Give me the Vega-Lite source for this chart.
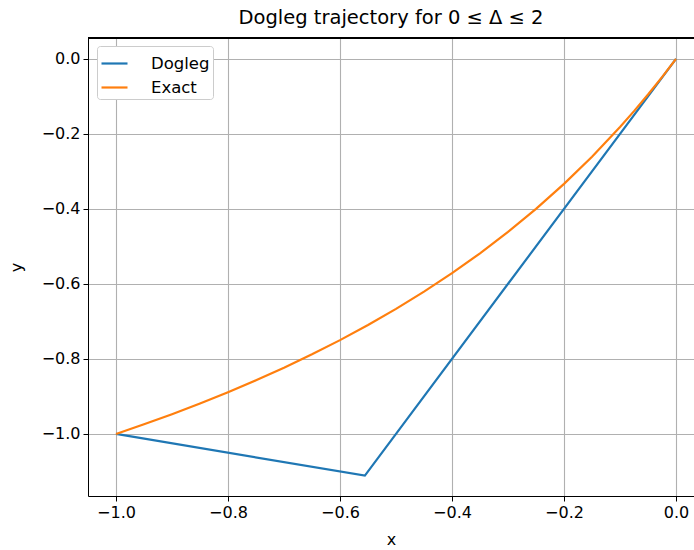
{
  "$schema": "https://vega.github.io/schema/vega-lite/v6.json",
  "autosize": {"type": "none"},
  "width": 606,
  "height": 458,
  "padding": {"left": 88, "top": 38, "right": 0, "bottom": 54},
  "background": "white",
  "title": {"text": "Dogleg trajectory for 0 ≤ Δ ≤ 2", "font": "DejaVu Sans", "fontSize": 19.5, "fontWeight": "normal", "color": "black", "offset": 9},
  "config": {
    "view": {"stroke": null},
    "axis": {
      "labelFont": "DejaVu Sans", "labelFontSize": 16, "labelColor": "black",
      "titleFont": "DejaVu Sans", "titleFontSize": 16, "titleFontWeight": "normal", "titleColor": "black",
      "domainColor": "black", "domainWidth": 1, "tickColor": "black", "tickSize": 5, "tickWidth": 1,
      "gridColor": "#b0b0b0", "gridWidth": 1.1, "gridOpacity": 1, "labelPadding": 3
    }
  },
  "data": {"values": [
    {"series": "Dogleg", "o": 0, "x": 0, "y": 0},
    {"series": "Dogleg", "o": 1, "x": -0.5556, "y": -1.1111},
    {"series": "Dogleg", "o": 2, "x": -1, "y": -1},
    {"series": "Exact", "o": 0, "x": 0, "y": 0},
    {"series": "Exact", "o": 1, "x": -0.025, "y": -0.04878},
    {"series": "Exact", "o": 2, "x": -0.05, "y": -0.09524},
    {"series": "Exact", "o": 3, "x": -0.075, "y": -0.13953},
    {"series": "Exact", "o": 4, "x": -0.1, "y": -0.18182},
    {"series": "Exact", "o": 5, "x": -0.15, "y": -0.26087},
    {"series": "Exact", "o": 6, "x": -0.2, "y": -0.33333},
    {"series": "Exact", "o": 7, "x": -0.25, "y": -0.4},
    {"series": "Exact", "o": 8, "x": -0.3, "y": -0.46154},
    {"series": "Exact", "o": 9, "x": -0.35, "y": -0.51852},
    {"series": "Exact", "o": 10, "x": -0.4, "y": -0.57143},
    {"series": "Exact", "o": 11, "x": -0.45, "y": -0.62069},
    {"series": "Exact", "o": 12, "x": -0.5, "y": -0.66667},
    {"series": "Exact", "o": 13, "x": -0.55, "y": -0.70968},
    {"series": "Exact", "o": 14, "x": -0.6, "y": -0.75},
    {"series": "Exact", "o": 15, "x": -0.65, "y": -0.78788},
    {"series": "Exact", "o": 16, "x": -0.7, "y": -0.82353},
    {"series": "Exact", "o": 17, "x": -0.75, "y": -0.85714},
    {"series": "Exact", "o": 18, "x": -0.8, "y": -0.88889},
    {"series": "Exact", "o": 19, "x": -0.85, "y": -0.91892},
    {"series": "Exact", "o": 20, "x": -0.9, "y": -0.94737},
    {"series": "Exact", "o": 21, "x": -0.95, "y": -0.97436},
    {"series": "Exact", "o": 22, "x": -1, "y": -1}
  ]},
  "layer": [
    {
      "mark": {"type": "line", "strokeWidth": 2.2, "clip": true},
      "encoding": {
        "x": {"field": "x", "type": "quantitative", "scale": {"domain": [-1.05, 0.0321], "nice": false, "zero": false},
              "axis": {"title": "x", "values": [-1, -0.8, -0.6, -0.4, -0.2, 0], "format": ".1f", "grid": true, "titlePadding": 11}},
        "y": {"field": "y", "type": "quantitative", "scale": {"domain": [-1.1655, 0.0555], "nice": false, "zero": false},
              "axis": {"title": "y", "values": [-1, -0.8, -0.6, -0.4, -0.2, 0], "format": ".1f", "grid": true, "titlePadding": 17}},
        "color": {"field": "series", "type": "nominal",
                  "scale": {"domain": ["Dogleg", "Exact"], "range": ["#1f77b4", "#ff7f0e"]},
                  "legend": {"title": null, "orient": "none", "legendX": 9, "legendY": 8,
                             "symbolType": "stroke", "symbolSize": 676, "symbolStrokeWidth": 2.2,
                             "labelFont": "DejaVu Sans", "labelFontSize": 16.5, "labelColor": "black",
                             "fillColor": "white", "strokeColor": "#cccccc", "padding": 3, "cornerRadius": 3,
                             "rowPadding": 1, "labelOffset": 22}},
        "order": {"field": "o", "type": "quantitative"}
      }
    },
    {
      "mark": {"type": "rule", "color": "black", "strokeWidth": 1},
      "encoding": {"y": {"datum": 0.0555}}
    }
  ]
}
